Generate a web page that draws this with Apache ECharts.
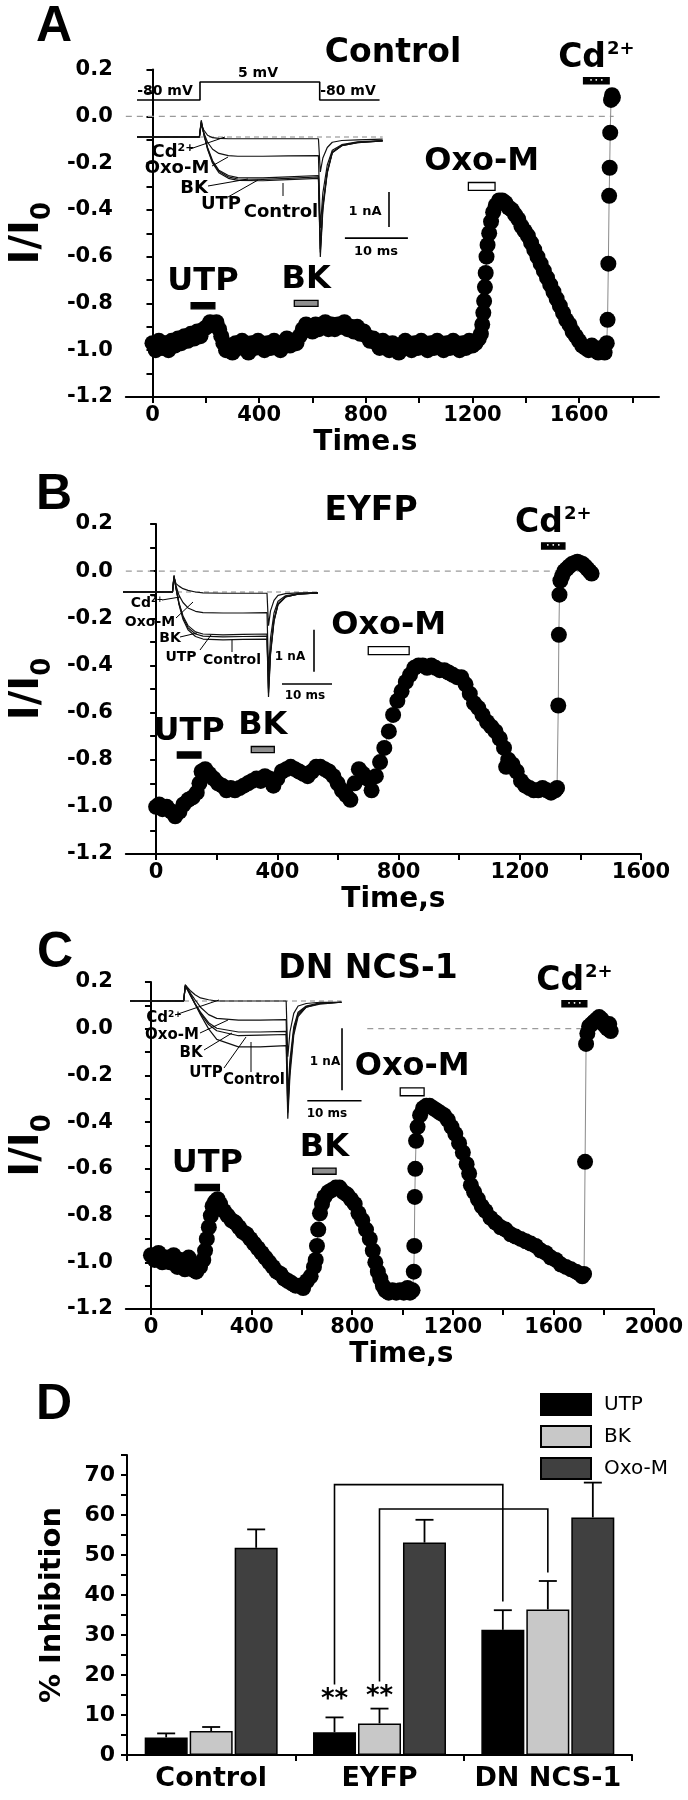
<!DOCTYPE html>
<html>
<head>
<meta charset="utf-8">
<script src="https://cdn.jsdelivr.net/npm/echarts@6.0.0/dist/echarts.min.js"></script>
<style>
html, body { margin: 0; padding: 0; background: #fff; }
#chart { width: 688px; height: 1800px; }
</style>
</head>
<body>
<div id="chart"></div>
<script>
// ---- time courses, [time s, I/I0] ----
var traceControl = [[0,-0.97],[12,-1.0],[24,-0.96],[36,-0.99],[48,-0.97],[60,-1.0],[72,-0.96],[84,-0.98],[96,-0.95],[108,-0.97],[120,-0.94],[132,-0.96],[144,-0.93],[156,-0.95],[168,-0.92],[180,-0.94],[192,-0.91],[204,-0.9],[216,-0.88],[228,-0.89],[240,-0.88],[250,-0.91],[258,-0.94],[266,-0.97],[276,-1.0],[288,-0.98],[300,-1.01],[312,-0.97],[324,-0.99],[336,-0.96],[348,-0.99],[360,-1.01],[372,-0.97],[384,-0.99],[396,-0.96],[408,-0.98],[420,-1.0],[432,-0.97],[444,-0.99],[456,-0.96],[468,-0.98],[480,-1.0],[492,-0.97],[504,-0.95],[516,-0.98],[528,-0.96],[540,-0.97],[552,-0.94],[564,-0.91],[576,-0.89],[588,-0.9],[600,-0.92],[612,-0.89],[624,-0.91],[636,-0.9],[648,-0.88],[660,-0.91],[672,-0.89],[684,-0.91],[696,-0.89],[708,-0.9],[720,-0.88],[732,-0.91],[744,-0.9],[756,-0.92],[768,-0.9],[780,-0.93],[792,-0.92],[804,-0.94],[816,-0.96],[828,-0.95],[840,-0.97],[852,-0.99],[864,-0.96],[876,-0.98],[888,-1.0],[900,-0.97],[912,-0.99],[924,-1.01],[936,-0.98],[948,-0.96],[960,-0.99],[972,-1.0],[984,-0.97],[996,-0.99],[1008,-0.96],[1020,-0.98],[1032,-1.0],[1044,-0.97],[1056,-0.99],[1068,-0.96],[1080,-0.98],[1092,-1.0],[1104,-0.97],[1116,-0.99],[1128,-0.96],[1140,-0.98],[1152,-1.0],[1164,-0.97],[1176,-0.99],[1188,-0.96],[1200,-0.98],[1212,-0.97],[1224,-0.95],[1232,-0.93],[1237,-0.89],[1241,-0.84],[1244,-0.79],[1247,-0.73],[1250,-0.67],[1253,-0.6],[1257,-0.55],[1263,-0.5],[1270,-0.45],[1278,-0.41],[1288,-0.38],[1300,-0.36],[1312,-0.36],[1324,-0.37],[1336,-0.39],[1348,-0.4],[1360,-0.42],[1372,-0.44],[1384,-0.47],[1396,-0.49],[1408,-0.51],[1420,-0.54],[1432,-0.57],[1444,-0.6],[1456,-0.63],[1468,-0.66],[1480,-0.69],[1492,-0.72],[1504,-0.75],[1516,-0.78],[1528,-0.81],[1540,-0.84],[1552,-0.87],[1564,-0.89],[1576,-0.92],[1588,-0.94],[1600,-0.96],[1612,-0.98],[1624,-0.99],[1636,-1.0],[1648,-0.98],[1660,-1.0],[1672,-1.01],[1684,-0.99],[1696,-1.01],[1704,-0.97],[1707,-0.87],[1710,-0.63],[1713,-0.34],[1715,-0.22],[1717,-0.07],[1720,0.07],[1724,0.09],[1727,0.08]];

var traceEYFP = [[0,-1.0],[10,-0.99],[21,-1.01],[35,-1.0],[50,-1.02],[63,-1.04],[77,-1.02],[90,-0.99],[106,-0.97],[120,-0.96],[134,-0.94],[143,-0.9],[150,-0.85],[162,-0.84],[175,-0.86],[190,-0.88],[204,-0.9],[218,-0.91],[232,-0.93],[246,-0.92],[260,-0.93],[275,-0.92],[289,-0.91],[303,-0.9],[317,-0.89],[331,-0.88],[345,-0.89],[359,-0.87],[373,-0.88],[387,-0.91],[400,-0.88],[415,-0.85],[430,-0.84],[444,-0.83],[458,-0.84],[472,-0.85],[486,-0.86],[500,-0.87],[514,-0.85],[528,-0.83],[542,-0.83],[556,-0.84],[570,-0.85],[585,-0.87],[599,-0.9],[613,-0.93],[627,-0.95],[641,-0.97],[655,-0.9],[669,-0.84],[683,-0.86],[697,-0.88],[711,-0.93],[725,-0.87],[739,-0.81],[753,-0.75],[768,-0.68],[782,-0.61],[796,-0.55],[810,-0.51],[824,-0.47],[838,-0.44],[852,-0.41],[866,-0.4],[880,-0.4],[894,-0.41],[908,-0.4],[922,-0.41],[936,-0.42],[951,-0.42],[965,-0.43],[979,-0.44],[993,-0.45],[1007,-0.45],[1021,-0.48],[1035,-0.52],[1049,-0.56],[1063,-0.58],[1077,-0.61],[1092,-0.64],[1106,-0.66],[1120,-0.68],[1134,-0.71],[1148,-0.75],[1155,-0.83],[1162,-0.8],[1176,-0.82],[1190,-0.85],[1204,-0.89],[1218,-0.91],[1232,-0.92],[1246,-0.93],[1261,-0.93],[1275,-0.92],[1289,-0.93],[1303,-0.94],[1317,-0.93],[1323,-0.92],[1327,-0.57],[1329,-0.27],[1331,-0.1],[1334,-0.04],[1340,-0.02],[1347,0.0],[1355,0.01],[1363,0.02],[1372,0.03],[1381,0.035],[1390,0.04],[1399,0.035],[1408,0.03],[1416,0.02],[1423,0.01],[1430,0.0],[1437,-0.01]];

var traceDN = [[0,-0.97],[15,-0.99],[30,-0.96],[45,-1.0],[60,-0.98],[75,-1.0],[90,-0.97],[105,-1.02],[120,-0.99],[135,-1.03],[150,-0.98],[165,-1.03],[180,-1.04],[195,-1.02],[208,-0.99],[215,-0.95],[222,-0.9],[230,-0.85],[238,-0.8],[245,-0.76],[255,-0.74],[265,-0.73],[275,-0.75],[290,-0.78],[305,-0.8],[320,-0.82],[335,-0.83],[350,-0.85],[365,-0.87],[380,-0.88],[395,-0.9],[410,-0.92],[425,-0.94],[440,-0.96],[455,-0.98],[470,-1.0],[485,-1.02],[500,-1.04],[515,-1.05],[530,-1.07],[545,-1.08],[560,-1.09],[575,-1.1],[590,-1.1],[605,-1.11],[620,-1.08],[635,-1.06],[648,-1.02],[655,-0.99],[660,-0.93],[665,-0.86],[672,-0.79],[680,-0.75],[690,-0.72],[705,-0.7],[720,-0.69],[735,-0.68],[750,-0.68],[765,-0.7],[780,-0.71],[795,-0.73],[810,-0.75],[825,-0.79],[840,-0.82],[855,-0.86],[870,-0.9],[882,-0.95],[892,-1.0],[902,-1.04],[912,-1.07],[922,-1.1],[932,-1.12],[945,-1.13],[960,-1.12],[975,-1.13],[990,-1.12],[1005,-1.13],[1020,-1.11],[1030,-1.13],[1040,-1.12],[1045,-1.04],[1047,-0.93],[1049,-0.72],[1051,-0.6],[1054,-0.48],[1060,-0.42],[1070,-0.37],[1082,-0.34],[1095,-0.33],[1108,-0.33],[1122,-0.34],[1136,-0.35],[1150,-0.36],[1165,-0.37],[1180,-0.39],[1195,-0.42],[1210,-0.45],[1225,-0.49],[1240,-0.53],[1255,-0.58],[1265,-0.62],[1272,-0.67],[1285,-0.7],[1300,-0.73],[1315,-0.76],[1330,-0.78],[1350,-0.81],[1370,-0.83],[1390,-0.85],[1410,-0.86],[1430,-0.88],[1450,-0.89],[1470,-0.9],[1490,-0.91],[1510,-0.92],[1530,-0.93],[1550,-0.95],[1570,-0.96],[1590,-0.98],[1610,-0.99],[1630,-1.01],[1650,-1.02],[1670,-1.03],[1690,-1.04],[1705,-1.05],[1715,-1.06],[1722,-1.05],[1726,-0.57],[1730,-0.065],[1735,-0.02],[1742,0.01],[1752,0.02],[1762,0.03],[1772,0.04],[1782,0.05],[1792,0.04],[1800,0.02],[1808,0.01],[1815,0.0],[1822,0.02],[1828,-0.01]];

// drug applications: [name, start s, end s, bar level]
var appsControl = [['UTP',145,234,-0.81],['BK',532,621,-0.80],['Oxo-M',1185,1285,-0.30],['Cd2+',1617,1713,0.152]];
var appsEYFP = [['UTP',70,148,-0.78],['BK',314,390,-0.757],['Oxo-M',700,835,-0.337],['Cd2+',1272,1349,0.107]];
var appsDN = [['UTP',176,272,-0.68],['BK',643,736,-0.61],['Oxo-M',991,1086,-0.27],['Cd2+',1634,1733,0.107]];

// ---- inset current traces (ms, nA) ----
var insetMs = [0,9.9,10.2,10.6,11.2,12,13,14.5,16,20,24,28.8,29.1,29.5,30.2,31,32.5,35,39];
var ctlA = [0,0,0.48,0.1,-0.35,-0.75,-1.02,-1.18,-1.24,-1.25,-1.22,-1.18,-3.43,-2.1,-1.03,-0.45,-0.25,-0.16,-0.11];
var utpA = [0,0,0.45,0.1,-0.33,-0.72,-0.98,-1.14,-1.2,-1.21,-1.18,-1.14,-3.3,-2.0,-1.0,-0.44,-0.25,-0.16,-0.11];
var bkA  = [0,0,0.42,0.08,-0.3,-0.68,-0.95,-1.1,-1.16,-1.17,-1.14,-1.1,-3.2,-1.95,-0.98,-0.43,-0.24,-0.15,-0.11];
var oxoA = [0,0,0.4,0.12,-0.15,-0.35,-0.47,-0.53,-0.55,-0.55,-0.54,-0.53,-2.6,-1.6,-0.8,-0.38,-0.22,-0.14,-0.1];
var cdA  = [0,0,0.35,0.2,0.05,-0.02,-0.04,-0.05,-0.05,-0.05,-0.05,-0.05,-1.0,-0.6,-0.3,-0.15,-0.1,-0.08,-0.06];
var ctlB = [0,0,0.4,0.1,-0.3,-0.65,-0.9,-1.06,-1.12,-1.14,-1.13,-1.12,-2.5,-1.5,-0.7,-0.3,-0.12,-0.05,-0.02];
var utpB = [0,0,0.38,0.1,-0.28,-0.6,-0.85,-1.0,-1.05,-1.07,-1.06,-1.05,-2.4,-1.45,-0.68,-0.3,-0.12,-0.05,-0.02];
var bkB  = [0,0,0.36,0.08,-0.26,-0.57,-0.8,-0.95,-1.0,-1.02,-1.01,-1.0,-2.3,-1.4,-0.65,-0.28,-0.11,-0.05,-0.02];
var oxoB = [0,0,0.35,0.15,-0.08,-0.25,-0.38,-0.46,-0.49,-0.5,-0.5,-0.49,-1.9,-1.1,-0.5,-0.22,-0.09,-0.04,-0.02];
var cdB  = [0,0,0.35,0.2,0.14,0.08,0.04,0.0,-0.02,-0.03,-0.03,-0.03,-0.8,-0.45,-0.2,-0.08,-0.04,-0.02,-0.02];
var ctlC = [0,0,0.26,0.2,0.1,-0.05,-0.22,-0.45,-0.62,-0.74,-0.74,-0.72,-1.9,-1.2,-0.55,-0.25,-0.1,-0.05,-0.02];
var utpC = [0,0,0.24,0.18,0.08,-0.05,-0.2,-0.38,-0.48,-0.56,-0.55,-0.54,-1.8,-1.1,-0.5,-0.22,-0.1,-0.04,-0.02];
var bkC  = [0,0,0.24,0.18,0.08,-0.04,-0.18,-0.35,-0.44,-0.5,-0.5,-0.49,-1.7,-1.05,-0.48,-0.2,-0.09,-0.04,-0.02];
var oxoC = [0,0,0.24,0.2,0.12,0.02,-0.1,-0.22,-0.28,-0.31,-0.31,-0.3,-1.5,-0.95,-0.42,-0.18,-0.08,-0.03,-0.02];
var cdC  = [0,0,0.26,0.22,0.16,0.1,0.05,0.02,0.0,0,0,0,-0.9,-0.5,-0.2,-0.08,-0.04,-0.02,-0.02];
// voltage protocol (ms, mV)
var protocol = [[0,-80],[10,-80],[10,5],[29,5],[29,-80],[38.5,-80]];

// ---- panel D: % inhibition ----
var groups = ['Control','EYFP','DN NCS-1'];
var utpMean = [4.4, 5.7, 31.3], utpErr = [1.0, 3.7, 4.9];
var bkMean  = [6.0, 7.9, 36.4], bkErr  = [1.0, 3.7, 7.1];
var oxoMean = [51.8, 53.1, 59.4], oxoErr = [4.6, 5.7, 8.7];
// brackets: [group, bar, low end, top, group, bar, low end]
var brackets = [[1,0,17.6,67.6,2,0,38.4],[1,1,18.4,61.5,2,1,45.6]];
var stars = [[1,0,13.6],[1,1,14.5]];

// ---- ticks ----
var yTicks = [-1.2,-1.1,-1.0,-0.9,-0.8,-0.7,-0.6,-0.5,-0.4,-0.3,-0.2,-0.1,0,0.1,0.2];
var yLabels = [-1.2,-1.0,-0.8,-0.6,-0.4,-0.2,0,0.2];

var FONT = 'DejaVu Sans';
var chart = echarts.init(document.getElementById('chart'));

function xMain(idx, max, ticks, labels, name, pad) {
  return {
    gridIndex: idx, type: 'value', min: -100, max: max,
    axisLine: {show: true, onZero: false, lineStyle: {color: '#000', width: 2}},
    axisTick: {show: true, length: 6, customValues: ticks, lineStyle: {color: '#000', width: 2}},
    axisLabel: {show: true, customValues: labels, margin: 8, color: '#000', fontSize: 21, fontWeight: 'bold', fontFamily: FONT,
      formatter: function (v) { return String(v); }},
    splitLine: {show: false},
    name: name, nameLocation: 'middle', nameGap: 32,
    nameTextStyle: {color: '#000', fontSize: 28, fontWeight: 'bold', fontFamily: FONT, padding: pad}
  };
}
function yMain(idx) {
  return {
    gridIndex: idx, type: 'value', min: -1.2, max: 0.2,
    axisLine: {show: true, lineStyle: {color: '#000', width: 2}},
    axisTick: {show: true, length: 6, customValues: yTicks, lineStyle: {color: '#000', width: 2}},
    axisLabel: {show: true, customValues: yLabels, margin: 13, color: '#000', fontSize: 21, fontWeight: 'bold', fontFamily: FONT,
      formatter: function (v) { return v.toFixed(1); }},
    splitLine: {show: false},
    name: '{a|I/I}{b|0}', nameLocation: 'middle', nameGap: 60,
    nameTextStyle: {rich: {
      a: {fontSize: 40, fontWeight: 'bold', fontFamily: FONT, color: '#000', verticalAlign: 'bottom', padding: [0, 0, 8, 0]},
      b: {fontSize: 26, fontWeight: 'bold', fontFamily: FONT, color: '#000', verticalAlign: 'bottom'}
    }}
  };
}
function hiddenAxis(idx, min, max) {
  return {gridIndex: idx, type: 'value', min: min, max: max, show: false};
}

var APP_STYLE = {
  'UTP':   {fill: '#000', h: 0.013},
  'BK':    {fill: '#8f8f8f', h: 0.013},
  'Oxo-M': {fill: '#fff', h: 0.017},
  'Cd2+':  {fill: '#000', h: 0.013}
};
var bigLabel = {fontSize: 32, fontWeight: 'bold', fontFamily: FONT, color: '#000'};
function appAreas(apps) {
  var out = [];
  apps.forEach(function (a) {
    var st = APP_STYLE[a[0]];
    var cd = a[0] === 'Cd2+';
    out.push([{
      name: a[0], coord: [a[1], a[3] + st.h],
      itemStyle: {color: st.fill, borderColor: '#000', borderWidth: 1.3},
      label: cd ? {show: true, position: 'top', distance: 2, formatter: '{b|Cd}{s|2+}', rich: {
        b: {fontSize: 33, fontWeight: 'bold', fontFamily: FONT, color: '#000', verticalAlign: 'bottom'},
        s: {fontSize: 18, fontWeight: 'bold', fontFamily: FONT, color: '#000', verticalAlign: 'bottom', padding: [0, 0, 17, 1]}
      }} : Object.assign({show: true, position: 'top', distance: 4, formatter: a[0]}, bigLabel)
    }, {coord: [a[2], a[3] - st.h]}]);
    if (cd) {
      out.push([{
        coord: [a[1], a[3] + st.h], itemStyle: {color: 'rgba(0,0,0,0)', borderWidth: 0},
        label: {show: true, position: 'inside', formatter: '\u2022 \u2022 \u2022', color: '#fff', fontSize: 6, fontFamily: FONT}
      }, {coord: [a[2], a[3] - st.h]}]);
    }
  });
  return out;
}
function mainSeries(idx, name, data, apps) {
  return {
    name: name, type: 'line', xAxisIndex: idx, yAxisIndex: idx, data: data, z: 3,
    symbol: 'circle', symbolSize: 16, showAllSymbol: true, silent: true,
    itemStyle: {color: '#000'}, lineStyle: {color: '#8a8a8a', width: 1},
    markArea: {silent: true, data: appAreas(apps)}
  };
}
function zeroLine(idx, from, to) {
  return {
    type: 'line', xAxisIndex: idx, yAxisIndex: idx, z: 1, symbol: 'none', silent: true,
    data: [[from, 0], [to, 0]], lineStyle: {color: '#9a9a9a', width: 1.3, type: [6, 5]}
  };
}
function insetTrace(idx, vals) {
  return {
    type: 'line', xAxisIndex: idx, yAxisIndex: idx, symbol: 'none', silent: true, z: 4,
    data: insetMs.map(function (t, i) { return [t, vals[i]]; }),
    lineStyle: {color: '#111', width: 1.2}
  };
}
function insetBase(idx) {
  return {
    type: 'line', xAxisIndex: idx, yAxisIndex: idx, symbol: 'none', silent: true, z: 3,
    data: [[0, 0], [39, 0]], lineStyle: {color: '#888', width: 1.1, type: [5, 4]}
  };
}
// scale bars, in inset units: [x of vertical bar, its top, its bottom, horizontal bar start, its y]
function scaleBars(idx, vx, vt, vb, hx, hy) {
  return [
    {type: 'line', xAxisIndex: idx, yAxisIndex: idx, symbol: 'none', silent: true,
      data: [[vx, vt], [vx, vb]], lineStyle: {color: '#000', width: 1.6}},
    {type: 'line', xAxisIndex: idx, yAxisIndex: idx, symbol: 'none', silent: true,
      data: [[hx, hy], [hx + 10, hy]], lineStyle: {color: '#000', width: 1.6}}
  ];
}

var BAR_STEP = 45;
function barX(api, g, k) { return api.coord([g, 0])[0] + (k - 1) * BAR_STEP; }
var errRows = [];
[[utpMean, utpErr], [bkMean, bkErr], [oxoMean, oxoErr]].forEach(function (p, k) {
  p[0].forEach(function (m, g) { errRows.push([g, k, m, p[1][g]]); });
});

// ---- text and small decorations ----
function txt(t, x, y, size, opt) {
  opt = opt || {};
  return {type: 'text', x: x, y: y, silent: true, z: 10, style: Object.assign({
    text: t, fontSize: size, fontWeight: 'bold', fontFamily: FONT, fill: '#000',
    align: 'center', verticalAlign: 'middle'}, opt)};
}
function cdTxt(x, y, size) {
  return txt('{b|Cd}{s|2+}', x, y, size, {rich: {
    b: {fontSize: size, fontWeight: 'bold', fontFamily: FONT, fill: '#000', verticalAlign: 'bottom'},
    s: {fontSize: Math.round(size * 0.6), fontWeight: 'bold', fontFamily: FONT, fill: '#000', verticalAlign: 'bottom', padding: [0, 0, Math.round(size * 0.45), 0]}
  }});
}
function seg(x1, y1, x2, y2) {
  return {type: 'line', silent: true, z: 10, shape: {x1: x1, y1: y1, x2: x2, y2: y2}, style: {stroke: '#000', lineWidth: 1}};
}
var letterFont = {fontFamily: 'Liberation Sans', align: 'left', verticalAlign: 'top'};
var graphics = [
  txt('A', 36, 2, 50, letterFont), txt('B', 36, 470, 50, letterFont),
  txt('C', 37, 928, 50, letterFont), txt('D', 36, 1380, 50, letterFont),
  txt('Control', 393, 53, 33), txt('EYFP', 371, 511, 33), txt('DN NCS-1', 368, 969, 33),
  // protocol
  txt('-80 mV', 165, 91, 14), txt('5 mV', 258, 73, 14), txt('-80 mV', 348, 91, 14),
  // inset A labels
  cdTxt(173, 152, 18), txt('Oxo-M', 177, 168, 18), txt('BK', 194, 188, 18), txt('UTP', 221, 204, 18), txt('Control', 281, 212, 18),
  txt('1 nA', 365, 212, 13), txt('10 ms', 376, 252, 13),
  seg(190, 149, 225, 137), seg(212, 166, 228, 157), seg(208, 186, 248, 179), seg(228, 197, 258, 180), seg(283, 196, 283, 183),
  // inset B labels
  cdTxt(147, 603, 14), txt('Oxo-M', 150, 622, 14), txt('BK', 170, 638, 14), txt('UTP', 181, 657, 14), txt('Control', 232, 660, 14),
  txt('1 nA', 290, 657, 12), txt('10 ms', 305, 696, 12),
  seg(162, 600, 180, 597), seg(176, 618, 193, 602), seg(180, 637, 197, 633), seg(200, 650, 211, 635), seg(232, 652, 232, 640),
  // inset C labels
  cdTxt(164, 1018, 15), txt('Oxo-M', 172, 1035, 15), txt('BK', 191, 1053, 15), txt('UTP', 206, 1073, 15), txt('Control', 254, 1080, 15),
  txt('1 nA', 325, 1062, 12), txt('10 ms', 327, 1114, 12),
  seg(175, 1015, 219, 1000), seg(200, 1033, 228, 1020), seg(204, 1050, 232, 1033), seg(224, 1068, 246, 1037), seg(251, 1072, 251, 1042)
];

var option = {
  animation: false,
  backgroundColor: '#fff',
  grid: [
    {left: 115, top: 69.5, width: 544, height: 327.5, containLabel: false},
    {left: 112, top: 524, width: 529, height: 330, containLabel: false},
    {left: 119, top: 982, width: 535, height: 327, containLabel: false},
    {left: 127, top: 1455, width: 505, height: 300, containLabel: false},
    {left: 137, top: 102, width: 283.5, height: 175, containLabel: false},
    {left: 137, top: 78, width: 283.5, height: 26, containLabel: false},
    {left: 123, top: 550, width: 225, height: 168, containLabel: false},
    {left: 130, top: 970, width: 244, height: 186, containLabel: false}
  ],
  xAxis: [
    xMain(0, 1900, [0,200,400,600,800,1000,1200,1400,1600,1800], [0,400,800,1200,1600], 'Time.s', [0, 54, 0, 0]),
    xMain(1, 1600, [0,200,400,600,800,1000,1200,1400,1600], [0,400,800,1200,1600], 'Time,s', [0, 0, 0, 20]),
    xMain(2, 2000, [0,200,400,600,800,1000,1200,1400,1600,1800,2000], [0,400,800,1200,1600,2000], 'Time,s', [0, 0, 0, 23]),
    {gridIndex: 3, type: 'category', data: groups,
      axisLine: {show: true, lineStyle: {color: '#000', width: 2}},
      axisTick: {show: true, alignWithLabel: false, length: 6, lineStyle: {color: '#000', width: 2}},
      axisLabel: {show: true, interval: 0, hideOverlap: false, margin: 10, color: '#000', fontSize: 27, fontWeight: 'bold', fontFamily: FONT},
      splitLine: {show: false}},
    hiddenAxis(4, 0, 45), hiddenAxis(5, 0, 45), hiddenAxis(6, 0, 45), hiddenAxis(7, 0, 45)
  ],
  yAxis: [
    yMain(0), yMain(1), yMain(2),
    {gridIndex: 3, type: 'value', min: 0, max: 75,
      axisLine: {show: true, lineStyle: {color: '#000', width: 2}},
      axisTick: {show: true, length: 6, customValues: [0,5,10,15,20,25,30,35,40,45,50,55,60,65,70,75], lineStyle: {color: '#000', width: 2}},
      axisLabel: {show: true, customValues: [0,10,20,30,40,50,60,70], margin: 12, color: '#000', fontSize: 22, fontWeight: 'bold', fontFamily: FONT},
      splitLine: {show: false},
      name: '% Inhibition', nameLocation: 'middle', nameGap: 60,
      nameTextStyle: {color: '#000', fontSize: 29, fontWeight: 'bold', fontFamily: FONT}},
    hiddenAxis(4, -4, 1), hiddenAxis(5, -99, 24), hiddenAxis(6, -3, 1), hiddenAxis(7, -2.5, 0.5)
  ],
  legend: {
    data: ['UTP', 'BK', 'Oxo-M'], orient: 'vertical', left: 535, top: 1388,
    itemWidth: 50, itemHeight: 21, itemGap: 9, icon: 'rect', selectedMode: false,
    textStyle: {fontSize: 20, fontFamily: FONT, color: '#000', padding: [0, 0, 0, 8]}
  },
  graphic: graphics,
  series: [
    zeroLine(0, -100, 1730), zeroLine(1, -100, 1440), zeroLine(2, 860, 1830),
    mainSeries(0, 'Control trace', traceControl, appsControl),
    mainSeries(1, 'EYFP trace', traceEYFP, appsEYFP),
    mainSeries(2, 'DN NCS-1 trace', traceDN, appsDN),
    insetBase(4), insetTrace(4, cdA), insetTrace(4, oxoA), insetTrace(4, bkA), insetTrace(4, utpA), insetTrace(4, ctlA),
    {type: 'line', xAxisIndex: 5, yAxisIndex: 5, symbol: 'none', silent: true, data: protocol, lineStyle: {color: '#000', width: 1.6}},
    insetBase(6), insetTrace(6, cdB), insetTrace(6, oxoB), insetTrace(6, bkB), insetTrace(6, utpB), insetTrace(6, ctlB),
    insetBase(7), insetTrace(7, cdC), insetTrace(7, oxoC), insetTrace(7, bkC), insetTrace(7, utpC), insetTrace(7, ctlC)
  ].concat(scaleBars(4, 40, -1.57, -2.57, 33, -2.89))
   .concat(scaleBars(6, 38.2, -0.9, -1.9, 31.8, -2.19))
   .concat(scaleBars(7, 39.1, -0.44, -1.44, 32.7, -1.61))
   .concat([
    {name: 'UTP', type: 'bar', xAxisIndex: 3, yAxisIndex: 3, data: utpMean, barWidth: 43, barGap: '4.6%',
      itemStyle: {color: '#000', borderColor: '#000', borderWidth: 1.5}},
    {name: 'BK', type: 'bar', xAxisIndex: 3, yAxisIndex: 3, data: bkMean, barWidth: 43, barGap: '4.6%',
      itemStyle: {color: '#c8c8c8', borderColor: '#000', borderWidth: 1.5}},
    {name: 'Oxo-M', type: 'bar', xAxisIndex: 3, yAxisIndex: 3, data: oxoMean, barWidth: 43, barGap: '4.6%',
      itemStyle: {color: '#404040', borderColor: '#000', borderWidth: 1.5}},
    {type: 'custom', xAxisIndex: 3, yAxisIndex: 3, z: 5, silent: true, data: errRows, encode: {x: 0, y: 2},
      renderItem: function (params, api) {
        var g = api.value(0), k = api.value(1), m = api.value(2), e = api.value(3);
        var x = barX(api, g, k);
        var y0 = api.coord([g, m])[1], y1 = api.coord([g, m + e])[1];
        var st = {stroke: '#000', lineWidth: 1.8};
        return {type: 'group', children: [
          {type: 'line', shape: {x1: x, y1: y0, x2: x, y2: y1}, style: st},
          {type: 'line', shape: {x1: x - 9, y1: y1, x2: x + 9, y2: y1}, style: st}
        ]};
      }},
    {type: 'custom', xAxisIndex: 3, yAxisIndex: 3, z: 5, silent: true, data: brackets, encode: {x: 0, y: 3},
      renderItem: function (params, api) {
        var xa = barX(api, api.value(0), api.value(1)), xb = barX(api, api.value(4), api.value(5));
        var ya = api.coord([0, api.value(2)])[1], yt = api.coord([0, api.value(3)])[1], yb = api.coord([0, api.value(6)])[1];
        return {type: 'polyline', shape: {points: [[xa, ya], [xa, yt], [xb, yt], [xb, yb]]},
          style: {stroke: '#000', lineWidth: 1.6, fill: null}};
      }},
    {type: 'custom', xAxisIndex: 3, yAxisIndex: 3, z: 5, silent: true, data: stars, encode: {x: 0, y: 2},
      renderItem: function (params, api) {
        var x = barX(api, api.value(0), api.value(1)), y = api.coord([0, api.value(2)])[1];
        return {type: 'text', x: x, y: y, style: {text: '**', fontSize: 26, fontWeight: 'bold', fontFamily: FONT,
          fill: '#000', align: 'center', verticalAlign: 'middle'}};
      }}
  ])
};
chart.setOption(option);
</script>
</body>
</html>
